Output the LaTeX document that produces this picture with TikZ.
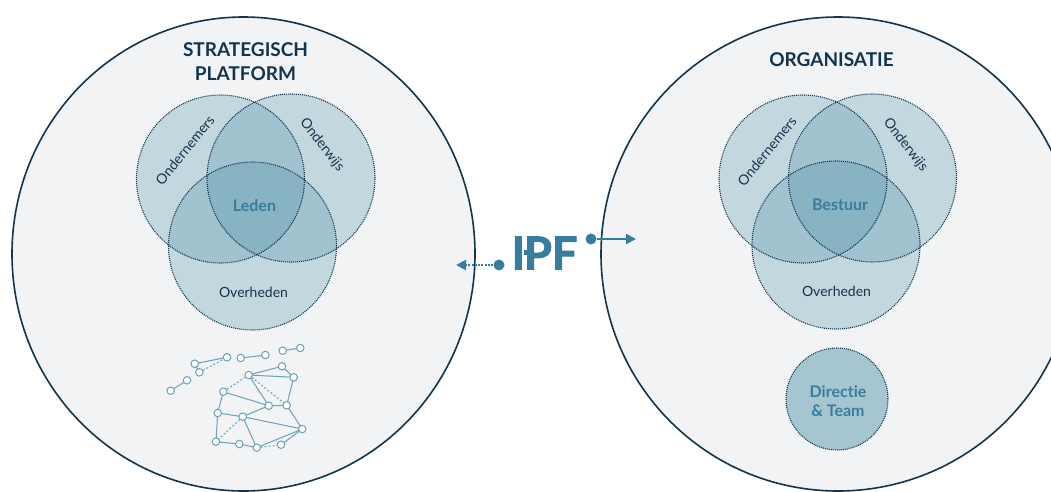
\documentclass[tikz,border=0pt]{standalone}
\usepackage{fontspec}
\setmainfont[Ligatures=NoCommon]{Lato}
\newfontfamily\logofont[FakeBold=2.2]{Lato Bold}
\definecolor{navy}{RGB}{18,52,77}
\definecolor{bigfill}{RGB}{241,243,245}
\definecolor{venn}{RGB}{61,135,161}
\definecolor{teal}{RGB}{56,125,158}
\definecolor{netline}{RGB}{110,160,185}
\tikzset{
  x=1pt,y=-1pt,
  bigcircle/.style={ellipse,draw=navy,line width=1.6pt,fill=bigfill,inner sep=0pt},
  venncircle/.style={circle,draw=none,fill=venn,fill opacity=.25,minimum size=168pt,inner sep=0pt},
  dotring/.style={draw=navy,line width=1.1pt,dash pattern=on 1pt off 1pt},
  title/.style={text=navy,font=\bfseries\fontsize{19}{24}\selectfont},
  vlabel/.style={text=navy,font=\fontsize{14}{15}\selectfont},
  core/.style={text=teal,font=\bfseries\fontsize{16}{19}\selectfont},
  netnode/.style={circle,draw=netline,fill=white,line width=1pt,minimum size=7.5pt,inner sep=0pt},
  netedge/.style={draw=netline,line width=1pt},
  netdash/.style={draw=netline,line width=1pt,dash pattern=on 2pt off 2pt},
  hub/.style={circle,fill=teal,minimum size=11pt,inner sep=0pt}
}
\usetikzlibrary{shapes.geometric,arrows.meta}
\begin{document}
\begin{tikzpicture}
\useasboundingbox (0,0) rectangle (1051,491);
\clip (0,0) rectangle (1051,491);
\node[bigcircle,minimum width=463pt,minimum height=474pt] (L) at (243.5,254) {};
\node[bigcircle,minimum width=474pt,minimum height=474pt] (R) at (838,254) {};
\foreach \n/\x/\y in {la/220.5/179,lb/291/178,lc/252.5/246,ra/803/179,rb/872.5/178,rc/836/245}{
  \node[venncircle] (\n) at (\x,\y) {};
}
\foreach \x/\y in {220.5/179,291/178,252.5/246,803/179,872.5/178,836/245}{
  \draw[dotring] (\x,\y) circle[radius=84pt];
}
\node[circle,fill=venn,fill opacity=.42,draw=none,minimum size=102pt,inner sep=0pt] (dir) at (837,399) {};
\draw[dotring] (837,399) circle[radius=51pt];
\node[title,align=center] (t1) at (245.5,62) {STRATEGISCH\\PLATFORM};
\node[title] (t2) at (831.5,60) {ORGANISATIE};
\node[vlabel,rotate=51] (l1) at (185,150) {Ondernemers};
\node[vlabel,rotate=-52] (l2) at (322,145) {Onderwijs};
\node[core] (l3) at (254.5,206) {Leden};
\node[vlabel] (l4) at (253.5,292) {Overheden};
\node[vlabel,rotate=51] (r1) at (767,151) {Ondernemers};
\node[vlabel,rotate=-52] (r2) at (905.5,145) {Onderwijs};
\node[core] (r3) at (840,205) {Bestuur};
\node[vlabel] (r4) at (836.5,291) {Overheden};
\node[core,align=center] (r5) at (838,401) {Directie\\\& Team};
\node[text=teal,font=\logofont\fontsize{45}{45}\selectfont,inner sep=0pt] (ipf) at (544.5,253) {I\kern-1pt PF};
\fill[teal] (524,250) rectangle (534,255);
\node[hub] (hl) at (499,265) {};
\coordinate (al) at (456,265);
\draw[teal,line width=2pt,dash pattern=on 2pt off 1.3pt,-{Triangle[length=10pt,width=10pt]}] (hl) -- (al);
\node[hub] (hr) at (591,239) {};
\coordinate (ar) at (636,239);
\draw[teal,line width=2pt,-{Triangle[length=10pt,width=10pt]}] (hr) -- (ar);
\foreach \n/\x/\y in {a1/170.7/390.7,a2/187/380.3,b1/194.7/363.7,b2/227/357.3,b3/199.3/372.3,c1/240.7/358,c2/265.3/355,d1/282.7/350.7,d2/300.3/348,
n1/248.7/375,n2/282/366.3,n3/293.7/377.3,n4/223.3/391.7,n5/268.7/405.7,n6/286.7/405.3,n7/217.7/413,n8/242.7/416.7,n9/302.3/429,n10/216/441.7,n11/239.3/444,n12/256.7/447.7,n13/281/444.7}{
  \coordinate (p\n) at (\x,\y);
}
\foreach \a/\b in {a1/a2,b1/b2,b1/b3,c1/c2,d1/d2,n1/n2,n2/n3,n1/n3,n3/n6,n1/n5,n4/n5,n5/n6,n4/n7,n7/n8,n8/n5,n6/n9,n8/n9,n7/n10,n8/n12,n10/n11,n11/n12,n12/n9,n13/n9}{
  \draw[netedge] (p\a) -- (p\b);
}
\foreach \a/\b in {b3/b2,n1/n6,n1/n4,n8/n10,n12/n13}{
  \draw[netdash] (p\a) -- (p\b);
}
\foreach \n in {a1,a2,b1,b2,b3,c1,c2,d1,d2,n1,n2,n3,n4,n5,n6,n7,n8,n9,n10,n11,n12,n13}{
  \node[netnode] (\n) at (p\n) {};
}
\end{tikzpicture}
\end{document}
